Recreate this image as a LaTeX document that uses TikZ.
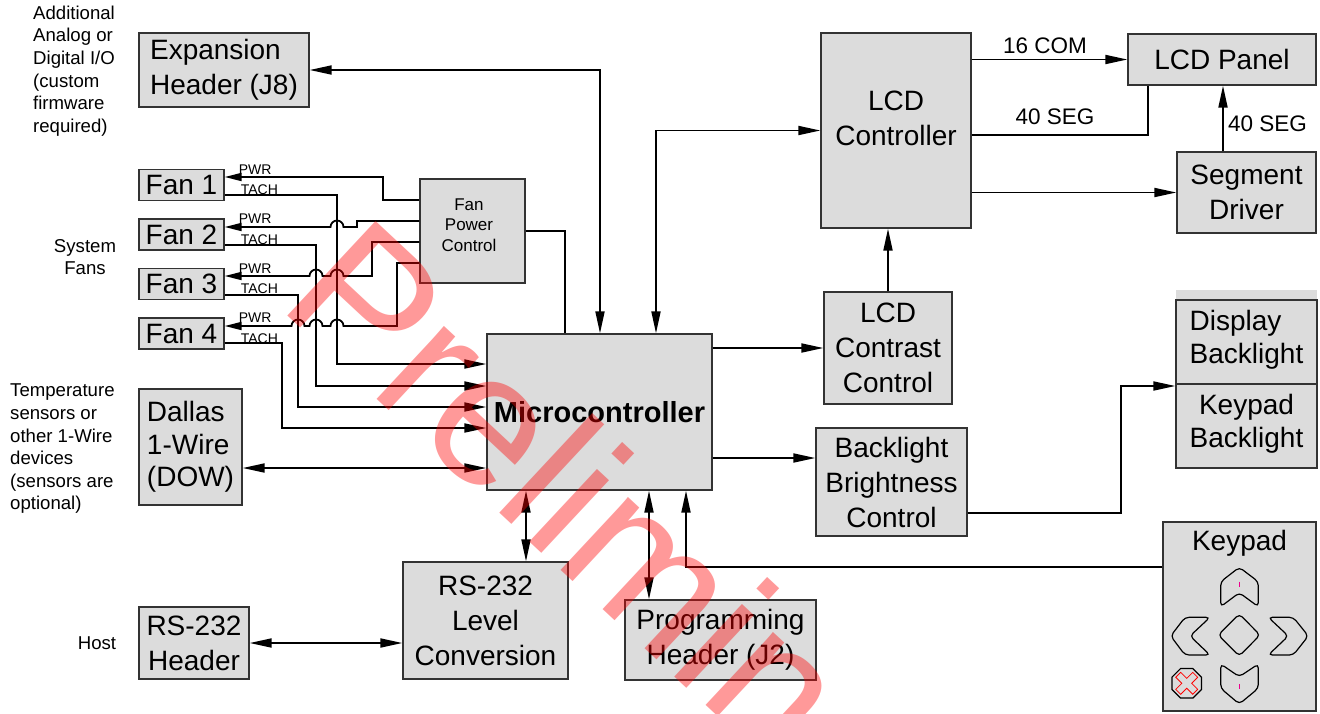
\documentclass[tikz,border=0pt]{standalone}
\usepackage{fontspec}
\setmainfont{Liberation Sans}
\usetikzlibrary{arrows.meta,calc,shapes.geometric}

\definecolor{boxgray}{RGB}{220,220,220}

\tikzset{
    blk/.style={draw=black!80, line width=1.3pt, fill=boxgray, inner sep=0pt, align=center, font=\fontsize{28}{35}\selectfont},
    txt/.style={inner sep=0pt, align=center, font=\fontsize{28}{35}\selectfont},
    wire/.style={line width=1.8pt},
    sig/.style={wire, -{Triangle[length=22pt,width=9pt]}},
    bisig/.style={wire, {Triangle[length=22pt,width=9pt]}-{Triangle[length=22pt,width=9pt]}},
    pwr/.style={wire, -{Triangle[length=17pt,width=8pt]}},
    note/.style={inner sep=0pt, font=\fontsize{18.6}{22.6}\selectfont},
    tag/.style={inner sep=0pt, anchor=base west, font=\fontsize{14}{14}\selectfont},
    bus/.style={inner sep=0pt, font=\fontsize{22.5}{22.5}\selectfont},
    key/.style={line width=1.2pt, rounded corners=4pt},
}

\begin{document}
\begin{tikzpicture}[x=1pt,y=-1pt]
    \useasboundingbox (0,0) rectangle (1320,713);

    % Side notes
    \node[note, align=left, anchor=west] (iotext) at (33,71) {Additional\\Analog or\\Digital I/O\\(custom\\firmware\\required)};
    \node[note, align=center] (fantext) at (85,257) {System\\Fans};
    \node[note, align=left, anchor=west] (senstext) at (10,449) {Temperature\\sensors or\\other 1-Wire\\devices\\(sensors are\\optional)};
    \node[note] (hosttext) at (97,643) {Host};

    % Left column
    \node[blk, minimum width=170pt, minimum height=74pt, align=left] (expansion) at (224,70) {Expansion\\Header (J8)};
    \foreach \i/\y in {1/185,2/234.5,3/284,4/333.5} {
        \node[blk, minimum width=85pt, minimum height=31pt] (fan\i) at (181.5,\y) {Fan \i};
        \node[tag] (pwr\i) at ($(fan\i.east)+(14,-11)$) {PWR};
        \node[tag] (tach\i) at ($(fan\i.east)+(16,9.5)$) {TACH};
    }
    \node[blk, minimum width=103pt, minimum height=116pt, align=left, font=\fontsize{28}{32.5}\selectfont] (dallas) at (190.5,447) {Dallas\\1-Wire\\(DOW)};
    \node[blk, minimum width=110pt, minimum height=72pt] (rshdr) at (194,643) {RS-232\\Header};

    % Middle blocks
    \node[blk, minimum width=105pt, minimum height=104pt] (fanpwr) at (472.5,231) {};
    \node[txt, font=\fontsize{17}{20.5}\selectfont] (fanpwrtext) at (469,225) {Fan\\Power\\Control};
    \node[blk, minimum width=225pt, minimum height=156pt, font=\fontsize{29}{35}\selectfont\bfseries] (micro) at (599.5,412) {Microcontroller};
    \node[blk, minimum width=165pt, minimum height=117pt] (rslevel) at (485.5,620.5) {RS-232\\Level\\Conversion};
    \node[blk, minimum width=191pt, minimum height=80pt] (proghdr) at (720.5,640) {Programming\\Header (J2)};

    % LCD side
    \node[blk, minimum width=150pt, minimum height=195pt] (lcdctrl) at (896,130.5) {};
    \node[txt] (lcdctrltext) at (896,118) {LCD\\Controller};
    \node[blk, minimum width=188pt, minimum height=51pt] (lcdpanel) at (1222,59.5) {LCD Panel};
    \node[blk, minimum width=139pt, minimum height=81pt] (segdrv) at (1246.5,192.5) {Segment\\Driver};
    \node[blk, minimum width=128pt, minimum height=112pt] (contrast) at (888,348) {LCD\\Contrast\\Control};
    \node[blk, minimum width=151pt, minimum height=108pt] (blctrl) at (891.5,482) {Backlight\\Brightness\\Control};

    % Backlights
    \fill[boxgray] (1176,290) rectangle (1317,300);
    \node[blk, minimum width=141pt, minimum height=168pt] (backlight) at (1246.5,384) {};
    \draw[line width=1.3pt, black!80] (backlight.west) -- (backlight.east);
    \node[txt, align=left, font=\fontsize{28}{32.5}\selectfont] (dispbl) at (1246.5,340) {Display\\Backlight};
    \node[txt, font=\fontsize{28}{32.5}\selectfont] (keybl) at (1246.5,424) {Keypad\\Backlight};

    % Keypad
    \node[blk, minimum width=153pt, minimum height=189pt] (keypad) at (1239.5,616.5) {};
    \node[txt] (keytitle) at (1239.5,543) {Keypad};
    \draw[key] (1239.3,567.3) -- (1258.3,581.7) -- (1258.3,606.7) -- (1239.3,592.7) -- (1220.7,606.7) -- (1220.7,581.7) -- cycle;
    \draw[key] (1220.7,664) -- (1239.3,676.7) -- (1258.3,664) -- (1258.3,688.3) -- (1239.3,704) -- (1220.7,688.3) -- cycle;
    \draw[key] (1170.7,636) -- (1185,617.3) -- (1210,617.3) -- (1190,636) -- (1210,655) -- (1185,655) -- cycle;
    \draw[key] (1268.3,617.3) -- (1293.3,617.3) -- (1308.3,636) -- (1293.3,655) -- (1268.3,655) -- (1288.3,636) -- cycle;
    \draw[key] (1239.3,614) -- (1260,635) -- (1239.3,656) -- (1218.3,635) -- cycle;
    \draw[magenta, line width=1.4pt] (1239.3,581.5) -- (1239.3,586.5);
    \draw[magenta, line width=1.4pt] (1239.3,684) -- (1239.3,689);
    \node[draw, line width=1.2pt, regular polygon, regular polygon sides=8, minimum size=32pt, inner sep=0pt] (cancel) at (1186.7,683.3) {};
    \draw[red, line width=0.8pt, shift={(cancel.center)}, rotate=45]
        (-3.5,-12) -- (3.5,-12) -- (3.5,-3.5) -- (12,-3.5) -- (12,3.5) -- (3.5,3.5)
        -- (3.5,12) -- (-3.5,12) -- (-3.5,3.5) -- (-12,3.5) -- (-12,-3.5) -- (-3.5,-3.5) -- cycle;

    % Fan power lines (with hops over the tach lines)
    \draw[pwr] (fanpwr.west |- 0,200) -| (383,177) -- (fan1.east |- 0,177);
    \draw[pwr] (fanpwr.west |- 0,221) -- (357,221) -- (357,227) -- (343.5,227)
        arc[start angle=0, end angle=-180, radius=6.5] -- (fan2.east |- 0,227);
    \draw[pwr] (fanpwr.west |- 0,242) -- (372,242) -- (372,276) -- (343.5,276)
        arc[start angle=0, end angle=-180, radius=6.5] -- (322.5,276)
        arc[start angle=0, end angle=-180, radius=6.5] -- (fan3.east |- 0,276);
    \draw[pwr] (fanpwr.west |- 0,263) -- (397,263) -- (397,326) -- (343.5,326)
        arc[start angle=0, end angle=-180, radius=6.5] -- (322.5,326)
        arc[start angle=0, end angle=-180, radius=6.5] -- (304.5,326)
        arc[start angle=0, end angle=-180, radius=6.5] -- (fan4.east |- 0,326);

    % Tach lines into the microcontroller
    \foreach \i/\ty/\tx/\my in {1/195/337/364, 2/245/316/386, 3/295/298/407, 4/343/282/428} {
        \draw[sig] (fan\i.east |- 0,\ty) -| (\tx,\my) -- (micro.west |- 0,\my);
    }
    \draw[wire] (fanpwr.east) -| (micro.north -| 565,0);

    % Microcontroller links
    \draw[bisig] (expansion.east) -| (micro.north -| 600,0);
    \draw[bisig] (micro.north -| 656,0) |- (lcdctrl.west);
    \draw[bisig] (dallas.east |- 0,468) -- (micro.west |- 0,468);
    \draw[bisig] (micro.south -| 526,0) -- (rslevel.north -| 526,0);
    \draw[bisig] (micro.south -| 649,0) -- (proghdr.north -| 649,0);
    \draw[bisig] (rshdr.east) -- (rslevel.west |- rshdr.east);
    \draw[sig] (keypad.west |- 0,567) -| (micro.south -| 686,0);
    \draw[sig] (micro.east |- contrast.west) -- (contrast.west);
    \draw[sig] (micro.east |- 0,458) -- (blctrl.west |- 0,458);
    \draw[sig] (contrast.north) -- (contrast.north |- lcdctrl.south);
    \draw[sig] (blctrl.east |- 0,513) -| (1121,386) -- (backlight.west |- 0,386);

    % LCD links
    \draw[sig] (lcdctrl.east |- lcdpanel.west) -- (lcdpanel.west);
    \node[bus] (comlabel) at (1045,46) {16 COM};
    \draw[wire] (lcdctrl.east |- 0,135) -| (lcdpanel.south -| 1148,0);
    \node[bus] (seglabel) at (1055,117) {40 SEG};
    \draw[sig] (lcdctrl.east |- segdrv.west) -- (segdrv.west);
    \draw[sig] (segdrv.north -| 1223,0) -- (lcdpanel.south -| 1223,0);
    \node[bus, anchor=west] (drvlabel) at (1228,124) {40 SEG};

    % Watermark
    \node[text=red, opacity=0.4, text opacity=0.4, rotate=-43, anchor=base west, inner sep=0pt,
        font=\fontsize{188}{188}\selectfont] (draft) at (276,305) {Preliminary};
\end{tikzpicture}
\end{document}
